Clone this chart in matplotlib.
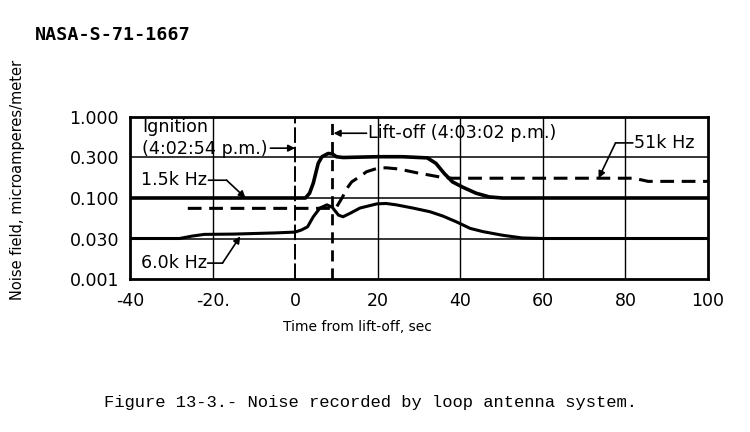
import numpy as np
import matplotlib
matplotlib.use('Agg')
import matplotlib.pyplot as plt

# y axis is a stepped scale: equal spacing between these tick values
tick_vals = [0.001, 0.030, 0.100, 0.300, 1.000]
tick_labels = ['0.001', '0.030', '0.100', '0.300', '1.000']
x_ticks = [-40, -20, 0, 20, 40, 60, 80, 100]
x_tick_labels = ['-40', '-20.', '0', '20', '40', '60', '80', '100']

# 1.5k Hz
t_15 = [-40, 2.5, 3.5, 4.4, 5.0, 5.6, 6.5, 8, 9, 10, 11.6, 14, 20, 26, 30, 32,
        34.1, 36.1, 38.1, 40.6, 43.8, 47, 50.2, 100]
v_15 = [0.100, 0.100, 0.114, 0.150, 0.197, 0.257, 0.307, 0.338, 0.334, 0.307,
        0.300, 0.302, 0.307, 0.307, 0.300, 0.297, 0.256, 0.195, 0.155, 0.134,
        0.114, 0.103, 0.100, 0.100]

# 6.0k Hz
t_60 = [-40, -28, -25, -22, -15, -5, 0, 1.5, 3, 4.4, 6, 7.7, 9, 10.5, 11.6,
        13.3, 15.7, 19.8, 22, 24.5, 28.5, 32.6, 35.8, 39, 42.4, 45.5, 50.3,
        55, 60, 100]
v_60 = [0.030, 0.030, 0.0322, 0.0339, 0.0342, 0.0354, 0.0363, 0.0386, 0.0424,
        0.0573, 0.0742, 0.0816, 0.0757, 0.0601, 0.0573, 0.0634, 0.0742, 0.084,
        0.085, 0.0816, 0.0742, 0.0666, 0.0584, 0.0494, 0.0405, 0.0368, 0.0330,
        0.0305, 0.030, 0.030]

# 51k Hz
t_51 = [-26, 8.5, 10, 11.5, 12.3, 13.7, 15.7, 17.3, 19.8, 22, 25, 29.5, 35,
        38, 82, 84, 85.5, 100]
v_51 = [0.0735, 0.0735, 0.076, 0.103, 0.125, 0.155, 0.179, 0.204, 0.223,
        0.227, 0.220, 0.198, 0.177, 0.171, 0.171, 0.163, 0.157, 0.157]

t_ignition = 0
t_liftoff = 9

lv = np.log10(tick_vals)
pos = np.arange(len(tick_vals))


def fwd(v):
    v = np.clip(np.asarray(v, dtype=float), 1e-9, None)
    return np.interp(np.log10(v), lv, pos)


def inv(p):
    return 10 ** np.interp(np.asarray(p, dtype=float), pos, lv)


fig = plt.figure(figsize=(7.5, 4.32), dpi=100)
ax = fig.add_axes([130 / 750, 1 - 279 / 432, 578 / 750, 162 / 432])
ax.set_yscale('function', functions=(fwd, inv))
ax.set_xlim(-40, 100)
ax.set_ylim(0.001, 1.0)

ax.set_yticks(tick_vals)
ax.set_yticklabels(tick_labels)
ax.set_xticks(x_ticks)
ax.set_xticklabels(x_tick_labels)
ax.tick_params(length=0, labelsize=12.5, colors='black')
ax.tick_params(axis='x', pad=9)
ax.tick_params(axis='y', pad=8)
for s in ax.spines.values():
    s.set_linewidth(2)

# grid
for v in tick_vals[1:-1]:
    ax.axhline(v, color='black', lw=1.1, zorder=1)
for t in x_ticks[1:-1]:
    if t != t_ignition:
        ax.axvline(t, color='black', lw=1, zorder=1)
ax.axvline(t_ignition, color='black', lw=1.4, dashes=(8, 2), zorder=1)
ax.axvline(t_liftoff, color='black', lw=2, dashes=(4, 2.5), zorder=2)

# curves
ax.plot(t_15, v_15, color='black', lw=2.6, solid_capstyle='butt', zorder=3)
ax.plot(t_60, v_60, color='black', lw=2.2, solid_capstyle='butt', zorder=3)
ax.plot(t_51, v_51, color='black', lw=2.2, dashes=(4.5, 2.5), zorder=3)

lab = dict(fontsize=12.6, color='black', family='DejaVu Sans')
arrow = dict(arrowstyle='-|>', color='black', lw=1.2, mutation_scale=10,
             shrinkA=0, shrinkB=0)
plain = dict(arrowstyle='-', color='black', lw=1.2, shrinkA=0, shrinkB=0)

# ignition / lift-off
ax.text(-37, 0.53, 'Ignition\n(4:02:54 p.m.)', ha='left', va='center',
        linespacing=1.3, **lab)
ax.annotate('', xy=(t_ignition, 0.396), xytext=(-6, 0.396), arrowprops=arrow)
ax.text(17.6, 0.617, 'Lift-off (4:03:02 p.m.)', ha='left', va='center', **lab)
ax.annotate('', xy=(t_liftoff + 0.3, 0.617), xytext=(17.3, 0.617),
            arrowprops=arrow)

# series labels
ax.text(-37.3, 0.162, '1.5k Hz', ha='left', va='center', **lab)
ax.annotate('', xy=(-16.6, 0.162), xytext=(-21, 0.162), arrowprops=plain)
ax.annotate('', xy=(-12, 0.100), xytext=(-16.6, 0.162), arrowprops=arrow)

ax.text(-37.3, 0.0038, '6.0k Hz', ha='left', va='center', **lab)
ax.annotate('', xy=(-17.6, 0.0038), xytext=(-21.2, 0.0038), arrowprops=plain)
ax.annotate('', xy=(-13.3, 0.032), xytext=(-17.6, 0.0038), arrowprops=arrow)

ax.text(82, 0.463, '51k Hz', ha='left', va='center', **lab)
ax.annotate('', xy=(77.6, 0.463), xytext=(81.8, 0.463), arrowprops=plain)
ax.annotate('', xy=(73.5, 0.171), xytext=(77.6, 0.463), arrowprops=arrow)

# labels
fig.text(357 / 750, 1 - 327 / 432, 'Time from lift-off, sec', ha='center',
         va='center', fontsize=10, family='DejaVu Sans')
fig.text(18 / 750, 1 - 180 / 432, 'Noise field, microamperes/meter',
         rotation=90, ha='center', va='center', fontsize=10.5,
         family='DejaVu Sans')
fig.text(35 / 750, 1 - 35 / 432, 'NASA-S-71-1667', ha='left', va='center',
         fontsize=13.2, fontweight='bold', family='DejaVu Sans Mono')
fig.text(104 / 750, 1 - 403 / 432,
         'Figure 13-3.- Noise recorded by loop antenna system.',
         ha='left', va='center', fontsize=12.3, family='Liberation Mono')

fig.savefig('out.png', dpi=100)
